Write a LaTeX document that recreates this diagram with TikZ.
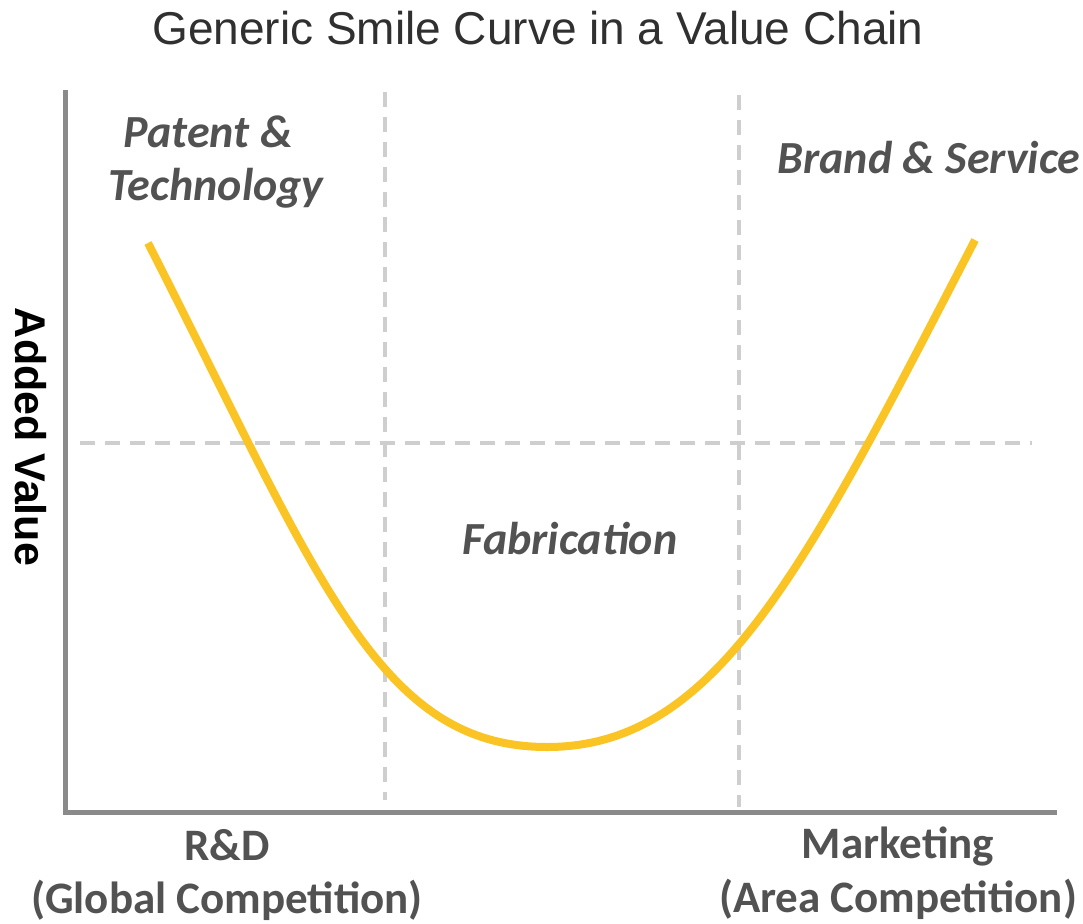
\documentclass[tikz,border=0pt]{standalone}
\usepackage{fontspec}
\setmainfont{Carlito}
\newfontfamily\titlefont{Liberation Sans}
\definecolor{SmileGold}{RGB}{249,196,36}
\definecolor{AxisGrey}{RGB}{138,138,138}
\definecolor{GuideGrey}{RGB}{206,206,206}
\definecolor{LabelGrey}{RGB}{82,82,82}
\definecolor{TitleGrey}{RGB}{48,48,48}

\begin{document}
\begin{tikzpicture}[x=1pt, y=-1pt,
  axis/.style={draw=AxisGrey, line width=5pt, line join=miter},
  guide/.style={draw=GuideGrey, line width=3.5pt, dash pattern=on 15pt off 10pt},
  smile/.style={draw=SmileGold, line width=8pt},
  stage/.style={text=LabelGrey, font=\fontsize{46}{53}\selectfont\bfseries\itshape, inner sep=0pt, anchor=base},
  chain/.style={text=LabelGrey, font=\fontsize{45}{52}\selectfont\bfseries, inner sep=0pt, anchor=base}]
  \useasboundingbox (0,0) rectangle (1083,923);

  % title
  \node[anchor=base, inner sep=0pt, text=TitleGrey, font=\titlefont\fontsize{46}{52}\selectfont] (title) at (538,45) {Generic Smile Curve in a Value Chain};

  % dashed guides
  \coordinate (rdtop) at (385,92);   \coordinate (rdbot) at (385,800);
  \coordinate (mktop) at (739,95);   \coordinate (mkbot) at (739,807);
  \coordinate (midl)  at (80,443);   \coordinate (midr)  at (1032,443);
  \draw[guide] (rdtop) -- (rdbot);
  \draw[guide] (mktop) -- (mkbot);
  \draw[guide] (midl) -- (midr);

  % axes
  \coordinate (ytop) at (65,90);
  \coordinate (origin) at (65,812);
  \coordinate (xend) at (1057,812);
  \draw[axis] (ytop) -- (origin) -- (xend);

  % the smile
  \coordinate (high1) at (148,243);
  \coordinate (low)   at (547,747);
  \coordinate (high2) at (975,240);
  \draw[smile] (high1) .. controls (318,576) and (377,747) .. (low)
                       .. controls (717,747) and (805,568) .. (high2);

  % stage labels
  \node[stage] (patent) at (208,147) {Patent \&};
  \node[stage] (tech)   at (216,200) {Technology};
  \node[stage] (brand)  at (929,173) {Brand \& Service};
  \node[stage] (fab)    at (570,554) {Fabrication};

  % axis labels
  \node[rotate=-90, inner sep=0pt, anchor=base, font=\titlefont\fontsize{43}{48}\selectfont\bfseries] (yval) at (15,437) {Added Value};
  \node[chain] (rd)     at (227,860) {R\&D};
  \node[chain] (rdsub)  at (227,913) {(Global Competition)};
  \node[chain] (mkt)    at (898,858) {Marketing};
  \node[chain] (mktsub) at (898,912) {(Area Competition)};
\end{tikzpicture}
\end{document}
